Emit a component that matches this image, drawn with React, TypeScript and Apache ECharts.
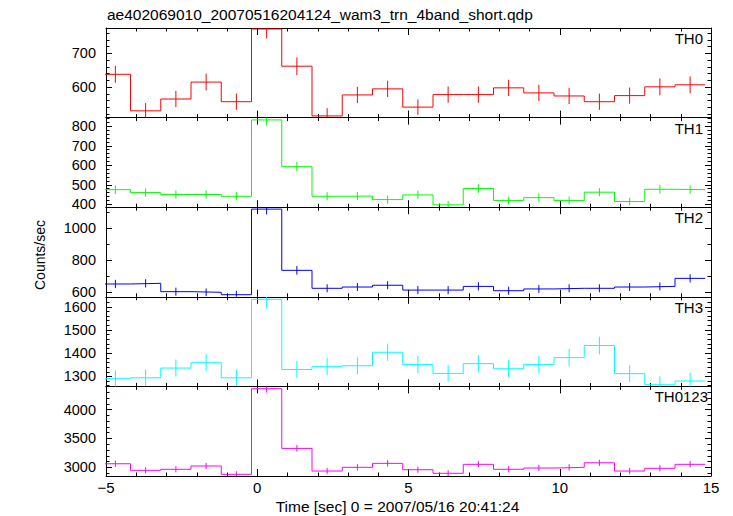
import React, { useEffect, useRef } from "react";
import * as echarts from "echarts";

const binCenters = [-4.69, -3.69, -2.69, -1.69, -0.69, 0.31, 1.31, 2.31, 3.31, 4.31, 5.31, 6.31, 7.31, 8.31, 9.31, 10.31, 11.31, 12.31, 13.31, 14.31];
const binHalfWidth = 0.5;

const panelNames = ["TH0", "TH1", "TH2", "TH3", "TH0123"];

const th0Rate = [638, 530, 565, 615, 557, 772, 662, 515, 577, 595, 541, 578, 578, 598, 583, 574, 557, 575, 601, 607];
const th0Err = [25, 23, 24, 25, 24, 28, 26, 23, 24, 24, 23, 24, 24, 24, 24, 24, 24, 24, 25, 25];
const th1Rate = [475, 460, 450, 450, 441, 833, 593, 441, 442, 424, 448, 397, 481, 419, 434, 419, 462, 414, 477, 475];
const th1Err = [22, 21, 21, 21, 21, 29, 24, 21, 21, 21, 21, 20, 22, 20, 21, 20, 21, 20, 22, 22];
const th2Rate = [652, 656, 604, 600, 585, 1119, 737, 625, 633, 644, 614, 614, 637, 610, 621, 625, 625, 633, 637, 687];
const th2Err = [26, 26, 25, 24, 24, 33, 27, 25, 25, 25, 25, 25, 25, 25, 25, 25, 25, 25, 25, 26];
const th3Rate = [1290, 1294, 1336, 1359, 1294, 1632, 1330, 1342, 1346, 1404, 1351, 1313, 1355, 1333, 1351, 1381, 1433, 1312, 1264, 1280];
const th3Err = [36, 36, 37, 37, 36, 40, 36, 37, 37, 37, 37, 36, 37, 37, 37, 37, 38, 36, 36, 36];
const th0123Rate = [3062, 2948, 2966, 3023, 2879, 4362, 3328, 2936, 3000, 3069, 2959, 2897, 3052, 2966, 2988, 3000, 3079, 2936, 2983, 3052];
const th0123Err = [55, 54, 54, 55, 54, 66, 58, 54, 55, 55, 54, 54, 55, 54, 55, 55, 55, 54, 55, 55];

const rates = [th0Rate, th1Rate, th2Rate, th3Rate, th0123Rate];
const errors = [th0Err, th1Err, th2Err, th3Err, th0123Err];
const colors = ["#ff0000", "#00ff00", "#0000ff", "#00ffff", "#ff00ff"];

const yMins = [510, 385, 572, 1257, 2850];
const yMaxs = [775, 845, 1131, 1643, 4402];
const yMajorTicks = [
  [600, 700],
  [400, 500, 600, 700, 800],
  [600, 800, 1000],
  [1300, 1400, 1500, 1600],
  [3000, 3500, 4000],
];
const yMinorSteps = [20, 20, 100, 20, 100];

const xMin = -5;
const xMax = 15;
const xInterval = 5;

const titleText = "ae402069010_20070516204124_wam3_trn_4band_short.qdp";
const xTitle = "Time [sec] 0 = 2007/05/16 20:41:24";
const yTitle = "Counts/sec";

const FONT = "'Liberation Sans', Arial, Helvetica, sans-serif";
const AXIS_COLOR = "#000";

export default function App() {
  const ref = useRef<HTMLDivElement>(null);

  useEffect(() => {
    if (!ref.current) return;
    const chart = echarts.init(ref.current, null, { renderer: "svg" });

    const gridLeft = 106;
    const gridRight = 22;
    const gridTop = 28;
    const panelH = 89.6;

    const grids: any[] = [];
    const xAxes: any[] = [];
    const yAxes: any[] = [];
    const series: any[] = [];
    const graphics: any[] = [];

    for (let i = 0; i < 5; i++) {
      grids.push({ left: gridLeft, right: gridRight, top: gridTop + i * panelH, height: panelH, containLabel: false });

      const xCommon = {
        type: "value",
        gridIndex: i,
        min: xMin,
        max: xMax,
        interval: xInterval,
        splitLine: { show: false },
        axisLine: { show: true, onZero: false, lineStyle: { color: AXIS_COLOR, width: 1 } },
        axisTick: { show: true, inside: true, length: 7, lineStyle: { color: AXIS_COLOR } },
        minorTick: { show: true, splitNumber: 5, length: 3.5, lineStyle: { color: AXIS_COLOR } },
        minorSplitLine: { show: false },
      };
      xAxes.push({
        ...xCommon,
        position: "bottom",
        axisLabel: {
          show: i === 4,
          margin: 4,
          color: "#000",
          fontFamily: FONT,
          fontSize: 15,
          formatter: (v: number) => (v < 0 ? "\u2212" + Math.abs(v) : String(v)),
        },
      });
      xAxes.push({ ...xCommon, position: "top", axisLabel: { show: false } });

      const minors: number[] = [];
      const step = yMinorSteps[i];
      for (let v = Math.ceil(yMins[i] / step) * step; v <= yMaxs[i]; v += step) {
        if (yMajorTicks[i].indexOf(v) < 0) minors.push(v);
      }

      const yCommon = {
        type: "value",
        gridIndex: i,
        min: yMins[i],
        max: yMaxs[i],
        splitLine: { show: false },
      };
      const yBase = i * 4;
      // left major
      yAxes.push({
        ...yCommon,
        position: "left",
        axisLine: { show: true, onZero: false, lineStyle: { color: AXIS_COLOR, width: 1 } },
        axisTick: { show: true, inside: true, length: 6, customValues: yMajorTicks[i], lineStyle: { color: AXIS_COLOR } },
        axisLabel: {
          show: true,
          customValues: yMajorTicks[i],
          margin: 10,
          color: "#000",
          fontFamily: FONT,
          fontSize: 14.5,
          lineHeight: 12,
          formatter: (v: number) => String(v),
        },
      });
      // left minor
      yAxes.push({
        ...yCommon,
        position: "left",
        axisLine: { show: false, onZero: false },
        axisTick: { show: true, inside: true, length: 3.5, customValues: minors, lineStyle: { color: AXIS_COLOR } },
        axisLabel: { show: false },
      });
      // right major
      yAxes.push({
        ...yCommon,
        position: "right",
        axisLine: { show: true, onZero: false, lineStyle: { color: AXIS_COLOR, width: 1 } },
        axisTick: { show: true, inside: true, length: 6, customValues: yMajorTicks[i], lineStyle: { color: AXIS_COLOR } },
        axisLabel: { show: false },
      });
      // right minor
      yAxes.push({
        ...yCommon,
        position: "right",
        axisLine: { show: false, onZero: false },
        axisTick: { show: true, inside: true, length: 3.5, customValues: minors, lineStyle: { color: AXIS_COLOR } },
        axisLabel: { show: false },
      });

      const stepData: number[][] = binCenters.map((c, k) => [c - binHalfWidth, rates[i][k]]);
      stepData.push([binCenters[binCenters.length - 1] + binHalfWidth, rates[i][rates[i].length - 1]]);

      series.push({
        type: "line",
        xAxisIndex: i * 2,
        yAxisIndex: yBase,
        step: "end",
        data: stepData,
        symbol: "none",
        clip: true,
        lineStyle: { color: colors[i], width: 1 },
        silent: true,
      });

      const color = colors[i];
      series.push({
        type: "custom",
        xAxisIndex: i * 2,
        yAxisIndex: yBase,
        clip: true,
        silent: true,
        encode: { x: 0, y: 1 },
        data: binCenters.map((c, k) => [c, rates[i][k], errors[i][k]]),
        renderItem: (params: any, api: any) => {
          const x = api.value(0);
          const v = api.value(1);
          const e = api.value(2);
          const p1 = api.coord([x, v - e]);
          const p2 = api.coord([x, v + e]);
          return {
            type: "line",
            shape: { x1: p1[0], y1: p1[1], x2: p2[0], y2: p2[1] },
            style: { stroke: color, lineWidth: 1 },
          };
        },
      });

      graphics.push({
        type: "text",
        right: i === 4 ? 25 : 30,
        top: gridTop + i * panelH + 3,
        style: { text: panelNames[i], fill: "#000", font: `15px ${FONT}` },
      });
    }

    graphics.push({
      type: "text",
      left: 107,
      top: 6,
      style: { text: titleText, fill: "#000", font: `15.5px ${FONT}` },
    });
    graphics.push({
      type: "text",
      x: 397.5,
      y: 498,
      style: { text: xTitle, fill: "#000", font: `15.5px ${FONT}`, align: "center", verticalAlign: "top" },
    });
    graphics.push({
      type: "text",
      x: 40,
      y: 255,
      rotation: Math.PI / 2,
      style: { text: yTitle, fill: "#000", font: `14px ${FONT}`, align: "center", verticalAlign: "middle" },
    });

    chart.setOption({
      animation: false,
      backgroundColor: "#fff",
      grid: grids,
      xAxis: xAxes,
      yAxis: yAxes,
      series,
      graphic: graphics,
    });

    return () => chart.dispose();
  }, []);

  return <div ref={ref} style={{ width: 733, height: 516, position: "absolute", left: 0, top: 0 }} />;
}
